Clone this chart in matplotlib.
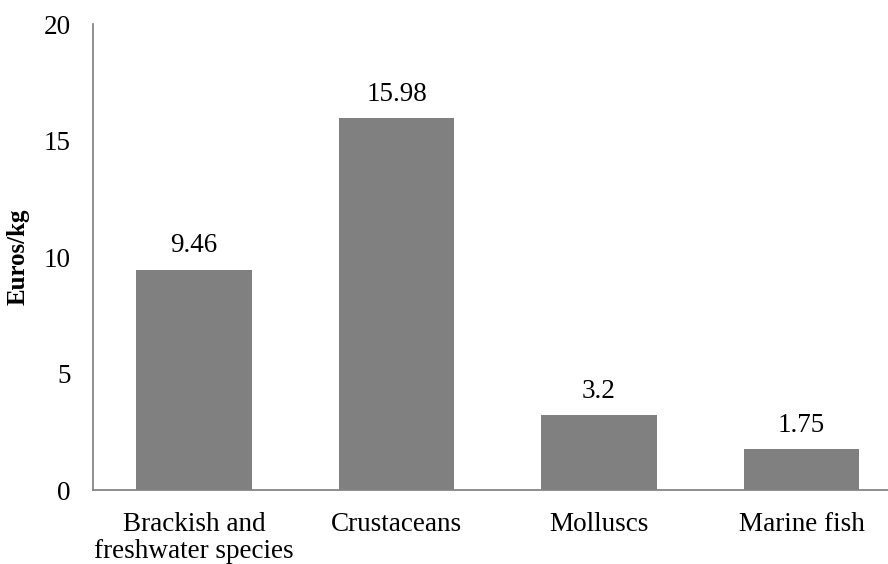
import matplotlib.pyplot as plt
import numpy as np

plt.rcParams['font.family'] = ['Liberation Serif', 'DejaVu Serif']

categories = ['Brackish and\nfreshwater species', 'Crustaceans', 'Molluscs', 'Marine fish']
prices = [9.46, 15.98, 3.2, 1.75]
price_labels = ['9.46', '15.98', '3.2', '1.75']

fig = plt.figure(figsize=(8.88, 5.64), dpi=100)
ax = fig.add_axes([0.1045, 0.1312, 0.9121, 0.8262])

x = np.arange(len(categories))
bars = ax.bar(x, prices, width=0.57, color='#808080')

# value above each bar
for xi, val, txt in zip(x, prices, price_labels):
    ax.annotate(txt, (xi, val), xytext=(0, 8), textcoords='offset points',
                ha='center', va='bottom', fontsize=19.5)

ax.set_xlim(-0.5, 3.5)
ax.set_ylim(0, 20)
ax.set_yticks([0, 5, 10, 15, 20])
ax.set_xticks(x)
ax.set_xticklabels(categories, fontsize=19.5, linespacing=1.07)
ax.tick_params(axis='both', length=0, labelsize=19.5)
ax.tick_params(axis='x', pad=16)
ax.tick_params(axis='y', pad=16)

ax.set_ylabel('Euros/kg', fontsize=18, fontweight='bold', labelpad=10)

for side in ['top', 'right']:
    ax.spines[side].set_visible(False)
for side in ['left', 'bottom']:
    ax.spines[side].set_color('#868686')
    ax.spines[side].set_linewidth(1.3)

plt.savefig('out.png', dpi=100)
